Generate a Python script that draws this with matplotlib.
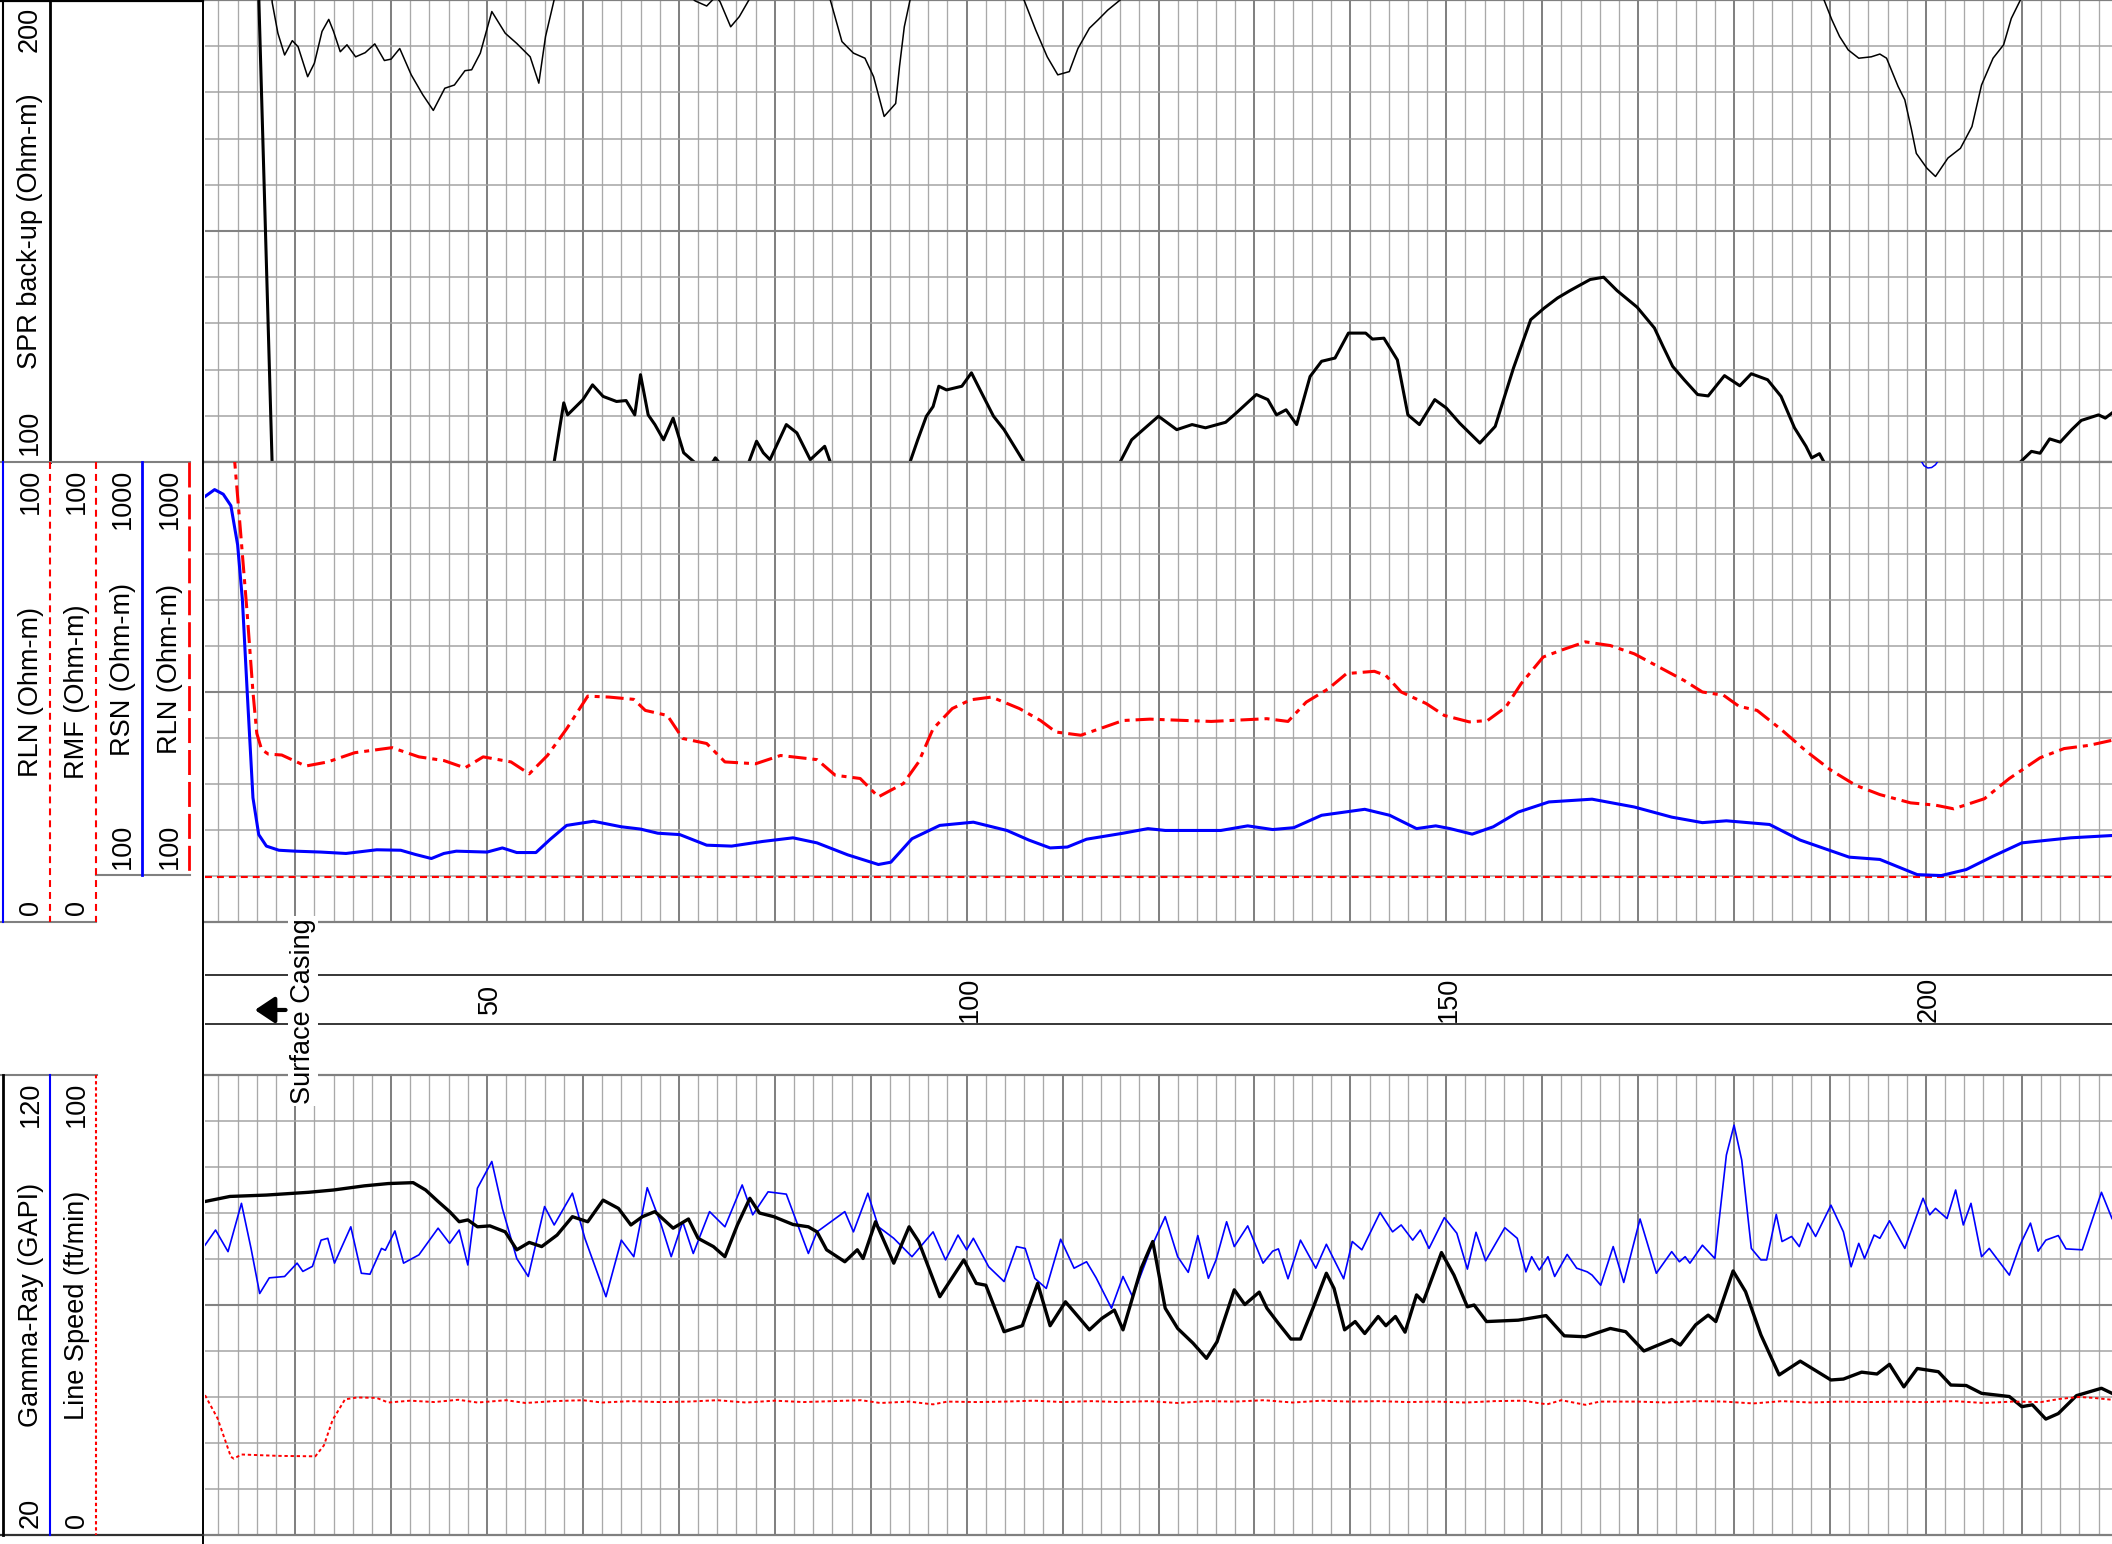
import numpy as np
import matplotlib
matplotlib.use("Agg")
import matplotlib.pyplot as plt
from matplotlib.lines import Line2D
from matplotlib.transforms import offset_copy

plt.rcParams['font.family'] = ['Liberation Sans', 'DejaVu Sans']
plt.rcParams['lines.scale_dashes'] = False

# ---- data (depth in ft) ----
D0, D1 = 20.6, 219.4

# SPR (Ohm-m), drawn on 100-200 and again on the 0-100 back-up scale
spr_depth = [20.6, 24.0, 26.2, 27.6, 28.2, 28.9, 29.7, 30.3, 31.3, 32.0, 32.8, 33.5, 34.0, 34.7, 35.4,
             36.3, 37.3, 38.3, 39.3, 40.0, 40.9, 42.1, 43.3, 44.4, 45.6, 46.6, 47.7, 48.4, 49.3, 50.5,
             51.9, 53.1, 54.5, 55.4, 56.1, 57.0, 58.0, 58.4, 60.0, 61.0, 62.1, 63.5, 64.5, 65.4, 66.0,
             66.8, 67.5, 68.4, 69.4, 70.5, 71.7, 72.9, 73.6, 73.8, 74.3, 75.4, 76.3, 77.3, 78.1, 78.8,
             79.5, 81.2, 82.3, 83.7, 85.2, 85.8, 87.0, 88.2, 89.4, 90.3, 91.4, 92.6, 93.0, 93.5, 94.1,
             94.9, 95.8, 96.5, 97.1, 97.9, 99.5, 100.5, 101.4, 102.8, 103.9, 106.0, 107.2, 108.4, 109.5,
             110.7, 111.6, 112.8, 113.7, 114.7, 116.0, 117.2, 118.4, 120.0, 121.9, 123.5, 124.9, 127.0,
             128.1, 130.2, 131.4, 132.3, 133.3, 134.4, 135.8, 137.0, 138.4, 139.8, 141.6, 142.3, 143.5,
             144.9, 146.0, 147.2, 148.8, 150.0, 151.4, 153.5, 155.1, 157.0, 158.8, 160.2, 161.6, 162.9,
             165.0, 166.4, 167.8, 169.9, 171.7, 172.6, 173.6, 174.8, 176.2, 177.3, 179.0, 180.6, 181.8,
             183.5, 184.9, 186.3, 187.5, 188.1, 188.9, 189.4, 190.2, 191.0, 191.9, 193.0, 194.3, 195.2,
             195.9, 197.1, 197.8, 198.5, 199.0, 200.1, 201.0, 202.3, 203.6, 204.8, 205.8, 207.0, 208.1,
             208.9, 209.85, 211.0, 211.9, 212.9, 214.0, 215.2, 216.2, 218.0, 218.7, 219.4]
spr = [230, 215, 201, 99.5, 92.8, 88.1, 91.2, 89.9, 83.4, 86.3, 93.2, 95.8, 93.2, 88.8, 90.3,
       87.7, 88.6, 90.5, 86.9, 87.2, 89.5, 83.8, 79.5, 76.1, 80.9, 81.6, 84.7, 84.9, 88.5, 97.5,
       92.8, 90.6, 87.7, 82.0, 92.1, 100.0, 112.8, 110.2, 113.5, 116.7, 114.2, 113.1, 113.3, 110.2, 118.9,
       110.2, 108.1, 104.8, 109.5, 102.0, 99.8, 98.7, 100.2, 100.9, 99.6, 94.2, 96.4, 100.0, 104.5, 102.0,
       100.5, 108.1, 106.3, 100.5, 103.4, 99.9, 91.0, 88.5, 87.4, 83.4, 74.8, 77.6, 85.6, 94.2, 100.0,
       104.8, 109.9, 112.0, 116.4, 115.6, 116.4, 119.3, 115.6, 109.9, 107.0, 99.9, 93.5, 87.7, 83.8,
       84.5, 89.5, 93.9, 95.7, 97.8, 100.0, 104.8, 107.0, 109.9, 107.0, 108.1, 107.4, 108.6,
       110.6, 114.6, 113.5, 110.2, 111.3, 108.1, 118.5, 121.8, 122.5, 127.9, 127.9, 126.6, 126.8,
       122.1, 110.2, 108.1, 113.5, 111.7, 108.4, 104.1, 107.7, 120.3, 130.8, 133.3, 135.5, 137.1,
       139.5, 140.0, 137.1, 133.5, 129.0, 125.0, 120.7, 117.8, 114.6, 114.3, 118.7, 116.5, 119.1,
       117.8, 114.2, 107.4, 103.4, 100.9, 101.8, 99.9, 95.7, 92.1, 89.2, 87.4, 87.7, 88.3,
       87.4, 81.3, 78.4, 71.9, 66.8, 63.6, 61.8, 65.8, 67.9, 72.6, 81.6, 87.4, 90.3,
       96.0, 100.0, 102.3, 101.9, 105.0, 104.3, 107.0, 109.0, 110.2, 109.5, 110.6]

# RLN shallow (blue, 0-100)
rln_depth = [20.6, 21.6, 22.5, 23.3, 24.0, 24.5, 25.0, 25.6, 26.2, 27.0, 28.3, 30.0, 32.7, 35.3, 38.5,
             41.0, 42.5, 44.2, 45.5, 46.8, 50.0, 51.6, 53.1, 55.1, 56.6, 58.3, 61.1, 64.0, 66.0, 67.8,
             70.1, 72.9, 75.5, 78.7, 81.9, 84.4, 87.6, 90.8, 92.1, 94.3, 97.2, 100.7, 104.2, 106.5, 108.7,
             110.5, 112.5, 116.3, 118.9, 120.7, 122.3, 126.5, 129.3, 131.9, 134.1, 137.0, 141.5, 144.1,
             146.9, 148.9, 150.4, 152.7, 154.9, 157.5, 160.7, 165.2, 169.6, 173.5, 176.7, 179.2, 183.7,
             186.9, 192.0, 195.2, 199.1, 201.6, 204.2, 207.0, 210.0, 215.1, 219.4]
rln = [92.5, 94.0, 93.0, 90.5, 82.0, 70.0, 50.0, 27.0, 19.0, 16.5, 15.6, 15.4, 15.2, 14.9, 15.7,
       15.6, 14.7, 13.8, 14.9, 15.4, 15.2, 16.1, 15.1, 15.1, 18.0, 21.0, 21.9, 20.7, 20.2, 19.3,
       19.0, 16.7, 16.5, 17.5, 18.3, 17.2, 14.6, 12.5, 13.0, 18.1, 21.0, 21.7, 19.9, 17.8, 16.1,
       16.3, 18.0, 19.3, 20.3, 19.9, 19.9, 19.9, 20.9, 20.1, 20.5, 23.2, 24.5, 23.2,
       20.3, 20.9, 20.3, 19.1, 20.7, 23.9, 26.1, 26.7, 25.0, 22.8, 21.6, 22.0, 21.2,
       17.8, 14.1, 13.6, 10.3, 10.1, 11.4, 14.3, 17.2, 18.3, 18.8]

# RLN deep (red dash-dot)
rld_depth = [20.6, 23.0, 23.7, 24.3, 25.0, 25.6, 26.0, 26.5, 27.2, 28.6, 31.1, 33.4, 36.2, 40.1, 42.9,
             45.5, 47.7, 49.6, 52.5, 54.4, 56.3, 58.3, 60.5, 62.7, 65.3, 66.5, 68.8, 70.4, 72.9, 74.8,
             78.0, 80.6, 84.4, 86.3, 88.9, 90.8, 93.4, 95.0, 96.5, 98.5, 100.4, 102.6, 105.5, 107.7,
             109.3, 111.9, 114.4, 116.3, 119.1, 125.5, 131.3, 133.5, 135.4, 137.7, 139.6, 142.5, 143.7,
             145.3, 147.9, 149.8, 152.4, 154.3, 156.2, 157.8, 160.1, 162.0, 164.5, 167.1, 169.6, 172.2,
             174.8, 176.7, 178.9, 180.5, 182.4, 185.0, 187.6, 190.1, 192.7, 195.2, 198.4, 201.0, 202.9,
             206.1, 208.7, 211.9, 214.4, 217.0, 219.4]
rld = [140, 112, 100, 85, 67, 50, 41, 37.5, 36.5, 36.3, 33.9, 34.8, 36.8, 37.9, 35.9,
       35.1, 33.5, 35.9, 34.8, 32.2, 36.2, 42.0, 49.1, 48.9, 48.4, 46.0, 44.9, 39.9, 38.8, 34.8,
       34.4, 36.2, 35.3, 31.9, 31.2, 27.2, 30.1, 34.8, 42.0, 46.4, 48.3, 48.9, 46.4, 43.8,
       41.3, 40.6, 42.4, 43.8, 44.1, 43.6, 44.2, 43.6, 47.8, 50.7, 54.0, 54.5, 53.6,
       50.0, 47.5, 44.9, 43.5, 43.8, 46.7, 51.8, 57.6, 59.1, 60.9, 60.1, 58.3, 55.4,
       52.5, 50.0, 49.3, 46.9, 46.0, 41.7, 37.0, 33.0, 29.7, 27.7, 25.9, 25.4, 24.6,
       26.8, 31.2, 35.7, 37.7, 38.4, 39.5]

# RMF (red fine dash), RSN wrap (tiny blue arc near 200 ft)
rmf_depth = [20.6, 219.4]
rmf = [9.8, 9.8]
rsn_depth = [199.4, 199.8, 200.2, 200.6, 201.0, 201.4]
rsn = [100.6, 99.2, 98.7, 98.8, 99.4, 100.6]

# Gamma-Ray (GAPI, black)
gr_depth = [20.6, 23.2, 27.0, 31.4, 34.0, 37.2, 39.7, 42.3, 43.6, 44.9, 46.1, 47.1, 48.0, 49.0, 50.3,
            51.9, 53.1, 54.4, 55.7, 57.3, 58.9, 60.5, 62.1, 63.7, 65.0, 66.2, 67.5, 69.4, 71.0, 72.0,
            73.6, 74.8, 76.1, 77.4, 78.4, 79.9, 81.9, 83.5, 84.4, 85.4, 87.3, 88.6, 89.2, 90.5, 92.4,
            94.0, 95.0, 97.2, 99.7, 101.0, 102.0, 103.9, 105.8, 107.4, 108.7, 110.3, 112.8, 114.1,
            115.4, 116.3, 118.2, 119.4, 120.7, 122.0, 123.6, 125.0, 126.1, 127.9, 129.0, 130.5, 131.3,
            132.5, 133.8, 134.8, 136.1, 137.5, 138.3, 139.4, 140.5, 141.5, 142.9, 143.7, 144.7, 145.7,
            146.9, 147.6, 149.5, 150.8, 152.2, 152.9, 154.2, 157.5, 160.4, 162.3, 164.5, 167.1, 168.7,
            170.6, 173.5, 174.4, 176.0, 177.3, 178.1, 179.9, 181.2, 182.8, 184.7, 186.9, 190.1, 191.4,
            193.3, 194.9, 196.2, 197.7, 199.1, 201.3, 202.6, 204.2, 205.8, 208.7, 210.0, 211.1, 212.5,
            213.8, 215.7, 218.3, 219.4]
gr = [92.5, 93.6, 93.9, 94.5, 95.0, 95.9, 96.4, 96.6, 95.0, 92.5, 90.3, 88.1, 88.5, 87.0, 87.2,
      85.9, 82.0, 83.6, 82.7, 85.2, 89.2, 88.1, 92.8, 91.0, 87.4, 89.2, 90.3, 86.7, 88.7, 84.5,
      82.7, 80.5, 87.4, 93.2, 90.0, 89.2, 87.5, 87.0, 85.9, 82.0, 79.4, 82.0, 80.1, 88.1, 79.1,
      87.0, 83.8, 71.8, 79.8, 74.7, 74.3, 64.2, 65.5, 74.7, 65.5, 70.7, 64.6, 67.1,
      68.9, 64.6, 78.0, 83.8, 69.3, 64.9, 61.7, 58.4, 62.0, 73.3, 70.1, 72.8, 69.3,
      66.0, 62.6, 62.6, 69.3, 76.9, 73.6, 64.6, 66.4, 63.8, 67.5, 65.5, 67.5, 64.1,
      72.2, 70.7, 81.4, 76.5, 69.6, 70.0, 66.4, 66.7, 67.7, 63.3, 63.1, 64.9, 64.2,
      60.0, 62.5, 61.3, 65.7, 67.8, 66.4, 77.4, 72.9, 63.5, 54.8, 57.8, 53.7, 53.9,
      55.4, 55.0, 57.1, 52.2, 56.2, 55.5, 52.6, 52.5, 50.8, 50.1, 47.9, 48.3, 45.2,
      46.4, 50.3, 51.9, 50.8]

# second gamma trace (blue, GAPI)
gr2_depth = [20.6, 21.7, 23.0, 24.4, 25.4, 26.3, 27.3, 28.9, 30.2, 30.8, 31.8, 32.7, 33.4, 34.1, 35.8,
             36.9, 37.8, 39.0, 39.4, 40.4, 41.3, 42.9, 44.9, 46.1, 47.1, 48.0, 49.0, 50.5, 51.6, 53.1,
             54.3, 56.0, 57.0, 58.9, 60.2, 62.4, 64.0, 65.3, 66.7, 68.1, 69.2, 70.4, 71.5, 73.2, 74.8,
             76.6, 77.7, 79.3, 81.2, 83.5, 84.4, 87.3, 88.2, 89.7, 90.8, 92.4, 94.3, 96.5, 97.8, 99.1,
             100.0, 100.7, 102.3, 103.9, 105.2, 106.1, 107.1, 108.3, 109.8, 111.2, 112.5, 113.5, 115.1,
             116.3, 117.3, 119.2, 120.7, 122.0, 123.1, 124.1, 125.2, 126.0, 127.1, 127.9, 129.3, 130.9,
             131.9, 132.5, 133.5, 134.8, 136.4, 137.5, 139.3, 140.2, 141.2, 143.1, 144.4, 145.3, 146.5,
             147.3, 148.2, 149.8, 151.1, 152.2, 153.1, 154.1, 156.1, 157.4, 158.3, 158.9, 159.7, 160.6,
             161.3, 162.6, 163.6, 164.7, 165.2, 166.1, 167.4, 168.5, 170.2, 171.9, 173.5, 174.3, 174.9,
             175.4, 176.7, 178.0, 179.2, 180.0, 180.8, 181.8, 182.8, 183.4, 184.4, 185.0, 186.0, 186.8,
             187.7, 188.5, 190.1, 191.4, 192.2, 193.0, 193.6, 194.6, 195.2, 196.2, 197.8, 199.7, 200.4,
             201.0, 202.2, 203.1, 203.9, 204.7, 205.8, 206.6, 208.7, 209.8, 210.9, 211.7, 212.5, 213.8,
             214.6, 216.3, 218.3, 219.4]
gr2 = [83.0, 86.3, 81.6, 92.1, 82.3, 72.5, 75.9, 76.2, 79.1, 77.3, 78.4, 84.1, 84.5, 79.1, 87.0,
       76.9, 76.7, 82.3, 81.9, 86.1, 79.1, 80.9, 86.7, 83.4, 86.3, 78.7, 95.4, 101.2, 91.0, 80.1,
       76.2, 91.4, 87.4, 94.3, 84.5, 71.8, 84.1, 80.5, 95.5, 87.8, 80.5, 88.1, 81.2, 90.3, 87.0,
       96.1, 89.6, 94.6, 94.1, 81.2, 85.9, 90.3, 85.9, 94.3, 87.0, 84.5, 80.5, 85.9, 79.8, 85.2,
       82.0, 84.5, 78.3, 75.1, 82.7, 82.3, 75.8, 73.6, 84.3, 78.0, 79.4, 75.9, 69.3,
       76.2, 71.8, 82.3, 89.2, 80.5, 77.1, 85.1, 75.8, 79.8, 88.1, 82.7, 87.2, 79.1,
       81.7, 82.2, 75.7, 84.1, 78.0, 83.2, 75.7, 83.8, 82.0, 90.1, 85.9, 87.4, 84.1,
       86.3, 82.3, 89.0, 85.6, 77.8, 85.8, 79.6, 86.8, 84.5, 77.2, 80.5, 77.6, 80.5,
       76.2, 81.0, 78.0, 77.2, 76.5, 74.3, 82.7, 74.9, 88.7, 76.9, 81.6, 79.4, 80.5,
       79.1, 83.0, 80.1, 102.6, 109.1, 101.5, 82.3, 79.8, 79.8, 89.7, 83.8, 84.9, 82.7,
       87.8, 84.9, 91.7, 85.9, 78.3, 83.4, 80.1, 85.2, 84.5, 88.3, 82.3, 93.2, 89.6,
       91.0, 88.8, 95.0, 87.4, 92.1, 80.5, 82.3, 76.5, 83.0, 87.8, 81.7, 84.1, 85.1,
       82.2, 82.0, 94.5, 88.8]

# Line speed (ft/min, red dotted)
ls_depth = [20.6, 21.9, 23.3, 23.6, 24.4, 28.3, 32.1, 33.0, 33.9, 35.2, 36.5, 38.5, 39.7, 42.0, 44.5,
            47.0, 49.0, 52.0, 54.0, 57.0, 60.0, 62.0, 65.0, 68.0, 71.0, 74.0, 77.0, 80.0, 83.0, 86.0,
            89.0, 91.0, 94.0, 96.5, 98.0, 101.0, 104.0, 107.0, 110.0, 113.0, 116.0, 119.0, 122.0,
            125.0, 128.0, 131.0, 134.0, 137.0, 140.0, 143.0, 146.0, 149.0, 152.0, 155.0, 158.0,
            160.5, 162.0, 164.5, 166.0, 170.0, 173.0, 176.0, 179.0, 182.0, 185.0, 188.0, 191.0,
            194.0, 197.0, 200.0, 203.0, 206.0, 209.0, 212.0, 214.0, 216.0, 217.5, 219.4]
ls = [30.4, 25.4, 17.0, 16.6, 17.5, 17.2, 17.1, 19.5, 25.0, 29.5, 29.9, 29.8, 28.8, 29.2, 28.9,
      29.4, 28.8, 29.3, 28.7, 29.1, 29.3, 28.8, 29.1, 28.9, 29.0, 29.3, 28.8, 29.2, 28.9, 29.1,
      29.3, 28.7, 29.0, 28.4, 29.0, 28.9, 29.0, 29.2, 28.9, 29.1, 28.9, 29.1, 28.7,
      29.1, 29.0, 29.3, 28.8, 29.2, 29.0, 29.1, 28.9, 29.0, 28.8, 29.1, 29.2,
      28.4, 29.3, 28.3, 29.0, 29.0, 28.8, 29.1, 29.0, 28.6, 29.1, 28.8, 29.0,
      28.9, 29.0, 28.9, 29.1, 28.7, 29.0, 28.9, 29.6, 30.0, 29.8, 29.4]

depth_labels = [50, 100, 150, 200]
casing_depth = 29.0

# ---- figure ----
W, H = 2112, 1544
fig = plt.figure(figsize=(W / 100, H / 100), dpi=100)
FS = 19.5


def px_box(y_top, y_bot, x_left=205):
    return [x_left / W, 1 - y_bot / H, (W - x_left) / W, (y_bot - y_top) / H]


def log_grid(ax, lo, hi):
    ax.set_xlim(D0, D1)
    ax.set_ylim(lo, hi)
    ax.set_xticks(np.arange(30, 220, 10))
    ax.set_xticks([d for d in range(22, 220, 2) if d % 10], minor=True)
    step = (hi - lo) / 10
    ax.set_yticks([lo + 5 * step])
    ax.set_yticks([lo + k * step for k in (1, 2, 3, 4, 6, 7, 8, 9)], minor=True)
    ax.xaxis.grid(True, which='minor', color='#a9a9a9', lw=0.95)
    ax.xaxis.grid(True, which='major', color='#818181', lw=1.45)
    ax.yaxis.grid(True, which='minor', color='#a4a4a4', lw=1.1)
    ax.yaxis.grid(True, which='major', color='#828282', lw=1.5)
    ax.tick_params(which='both', length=0, labelbottom=False, labelleft=False)
    for s in ax.spines.values():
        s.set_visible(False)
    ax.set_axisbelow(True)
    for y in (lo, hi):
        ax.axhline(y, color='#808080', lw=1.6, clip_on=False, zorder=1)


ax_spr = fig.add_axes(px_box(0, 462))
ax_res = fig.add_axes(px_box(462, 922))
ax_dep = fig.add_axes(px_box(922, 1075))
ax_gr = fig.add_axes(px_box(1075, 1535))

log_grid(ax_spr, 100, 200)
log_grid(ax_res, 0, 100)
log_grid(ax_gr, 20, 120)

# SPR and its back-up trace
spr_arr = np.array(spr)
ax_spr.plot(spr_depth, spr_arr, color='black', lw=2.2)
ax_spr.plot(spr_depth, spr_arr + 100, color='black', lw=1.1)

# resistivity track
ax_res.plot(rmf_depth, rmf, color='red', lw=1.5, linestyle=(0, (5, 3.6)))
ax_res.plot(rld_depth, rld, color='red', lw=2.2, linestyle=(0, (13, 4.3, 3.6, 4.3)))
ax_res.plot(rln_depth, rln, color='blue', lw=2.2)
ax_res.plot(rsn_depth, rsn, color='blue', lw=1.1)

# gamma / line speed track
ax_ls = ax_gr.twinx()
ax_ls.set_ylim(0, 100)
ax_ls.set_xlim(D0, D1)
ax_ls.axis('off')
ax_ls.plot(ls_depth, ls, color='red', lw=1.4, linestyle=(0, (2.4, 2.0)))
ax_gr.plot(gr2_depth, gr2, color='blue', lw=1.2)
ax_gr.plot(gr_depth, gr, color='black', lw=2.4)

# depth track
ax_dep.set_xlim(D0, D1)
ax_dep.set_ylim(0, 1)
ax_dep.axis('off')
for yf in (0.3333, 0.6536):
    ax_dep.axhline(yf, color='black', lw=1.1)
lab_tr = offset_copy(ax_dep.transData, fig=fig, x=7.2, y=0, units='points')
for d in depth_labels:
    ax_dep.text(d, 0.497, str(d), rotation=90, rotation_mode='anchor', ha='center',
                va='baseline', fontsize=FS, transform=lab_tr)
ax_dep.annotate('', xy=(25.8, 0.425), xytext=(casing_depth, 0.425),
                arrowprops=dict(arrowstyle='-|>,head_length=0.6,head_width=0.4', lw=3,
                                color='black', mutation_scale=20, shrinkA=0, shrinkB=0))
fig.text(310 / W, 1 - 1011 / H, 'Surface Casing', rotation=90, rotation_mode='anchor',
         ha='center', va='baseline', fontsize=FS, zorder=10,
         bbox=dict(facecolor='white', edgecolor='none', pad=1.5))


# ---- header ----
def vline(x, y0, y1, **kw):
    fig.add_artist(Line2D([x / W, x / W], [1 - y0 / H, 1 - y1 / H], **kw))


def hline(x0, x1, y, **kw):
    fig.add_artist(Line2D([x0 / W, x1 / W], [1 - y / H, 1 - y / H], **kw))


def htext(x, y, s, ha):
    fig.text(x / W, 1 - y / H, s, rotation=90, rotation_mode='anchor', ha=ha,
             va='baseline', fontsize=FS)


dash = (0, (5, 3.6))
longdash = (0, (18, 5))
dot = (0, (2.4, 2.0))

vline(203, 0, H, color='black', lw=1.4)
hline(0, 203, 1, color='black', lw=1.6)

# SPR header
vline(3, 0, 462, color='black', lw=1.5)
vline(50, 0, 462, color='black', lw=2.0)
htext(37, 7, '200', 'right')
htext(37, 231, 'SPR back-up (Ohm-m)', 'center')
htext(37, 455, '100', 'left')

# resistivity header
hline(0, 190, 462, color='#808080', lw=1.5)
hline(96, 190, 875, color='#808080', lw=1.5)
hline(0, 96, 922, color='#808080', lw=1.5)
vline(3, 462, 922, color='blue', lw=1.5)
vline(50, 462, 922, color='red', lw=1.5, linestyle=dash)
vline(96, 462, 922, color='red', lw=1.5, linestyle=dash)
vline(142, 462, 875, color='blue', lw=2.0)
vline(189, 462, 875, color='red', lw=2.0, linestyle=longdash)
for xb, name in ((38, 'RLN (Ohm-m)'), (84, 'RMF (Ohm-m)')):
    htext(xb, 469, '100', 'right')
    htext(xb, 692, name, 'center')
    htext(xb, 915, '0', 'left')
for xb, name in ((130, 'RSN (Ohm-m)'), (177, 'RLN (Ohm-m)')):
    htext(xb, 469, '1000', 'right')
    htext(xb, 669, name, 'center')
    htext(xb, 869, '100', 'left')

# gamma header
hline(0, 97, 1075, color='#808080', lw=1.5)
hline(0, 203, 1535, color='#303030', lw=1.6)
vline(3, 1075, 1535, color='black', lw=2.0)
vline(50, 1075, 1535, color='blue', lw=1.5)
vline(96, 1075, 1535, color='red', lw=1.5, linestyle=dot)
htext(38, 1082, '120', 'right')
htext(38, 1305, 'Gamma-Ray (GAPI)', 'center')
htext(38, 1528, '20', 'left')
htext(84, 1082, '100', 'right')
htext(84, 1305, 'Line Speed (ft/min)', 'center')
htext(84, 1528, '0', 'left')

fig.savefig('out.png', dpi=100)
